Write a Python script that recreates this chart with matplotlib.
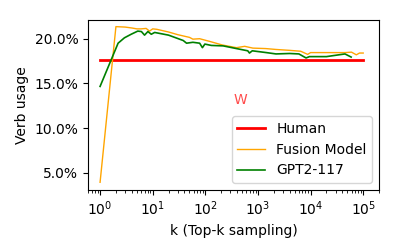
import matplotlib
matplotlib.use('Agg')
import matplotlib.pyplot as plt
from matplotlib.ticker import FuncFormatter

# k values and verb usage (%)
k_human = [1, 100000]
human = [17.65, 17.65]

k_fusion = [1, 2, 3, 4, 5, 6, 7.5, 8.7, 10, 12, 20, 30, 50, 58, 78, 121,
            210, 390, 560, 800, 1400, 2200, 4000, 6500, 8800, 10000,
            20000, 45000, 60000, 74000, 85000, 100000]
fusion = [3.96, 21.35, 21.3, 21.2, 21.1, 21.1, 21.15, 20.85, 21.1, 21.05,
          20.75, 20.45, 20.15, 19.95, 20.0, 19.7,
          19.3, 19.0, 19.15, 18.95, 18.9, 18.8, 18.7, 18.6, 18.25, 18.45,
          18.45, 18.45, 18.5, 18.2, 18.4, 18.4]

k_gpt = [1, 2.2, 2.9, 3.9, 5.2, 6.1, 7.0, 8.1, 9.4, 10.9, 20, 38, 44, 58,
         78, 88, 98, 130, 218, 390, 640, 690, 780, 1440, 2200, 4000,
         6000, 8200, 9500, 20000, 45000, 59000]
gpt = [14.67, 19.5, 20.1, 20.5, 20.85, 20.8, 20.4, 20.8, 20.5, 20.7,
       20.4, 19.8, 19.5, 19.6, 19.5, 19.0, 19.4, 19.25, 19.2, 18.9,
       18.65, 18.4, 18.65, 18.45, 18.3, 18.35, 18.3, 17.85, 18.0, 18.0,
       18.3, 17.95]

fig = plt.figure(figsize=(3.99, 2.49), dpi=100)
ax = fig.add_axes([0.2206, 0.237, 0.7294, 0.683])

ax.plot(k_human, human, color='red', linewidth=2, label='Human')
ax.plot(k_fusion, fusion, color='orange', linewidth=1, label='Fusion Model')
ax.plot(k_gpt, gpt, color='green', linewidth=1.2, label='GPT2-117')

ax.set_xscale('log')
ax.set_xlim(0.59, 2.0e5)
ax.set_ylim(3.1, 22.1)
ax.set_yticks([5, 10, 15, 20])
ax.yaxis.set_major_formatter(FuncFormatter(lambda v, p: f'{v:.1f}%'))

ax.set_xlabel('k (Top-k sampling)')
ax.set_ylabel('Verb usage')

ax.text(470, 13.2, 'W', color='red', alpha=0.7, fontsize=10,
        ha='center', va='center')

ax.legend(loc='lower right')

fig.savefig('out.png', dpi=100)
